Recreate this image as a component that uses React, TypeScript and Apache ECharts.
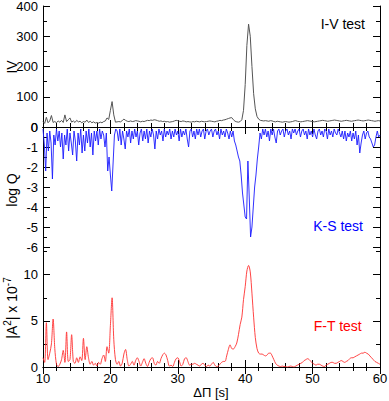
import React, { useEffect, useRef } from "react";
import * as echarts from "echarts";

// sampling grid start (ΔΠ in s) and steps of each series
const X_START = 10;
const IV_STEP = 0.25;
const KS_STEP = 0.2;
const FT_STEP = 0.25;

// I-V test (IV), ΔΠ = 10 .. 60 every 0.25 s
const ivValues: number[] = [
  18, 12, 32, 14, /* 10 */ 20, 38, 15, 18, /* 11 */ 14, 20, 16, 22, /* 12 */
  15, 40, 18, 24, /* 13 */ 30, 16, 20, 15, /* 14 */ 22, 17, 19, 14, /* 15 */
  18, 16, 23, 15, /* 16 */ 19, 14, 17, 13, /* 17 */ 15, 13, 16, 14, /* 18 */
  18, 20, 30, 25, /* 19 */ 55, 84, 40, 16, /* 20 */ 17, 18, 17, 21, /* 21 */
  26, 22, 19, 18, /* 22 */ 20, 18, 19, 21, /* 23 */ 20, 19, 17, 19, /* 24 */
  18, 20, 22, 21, /* 25 */ 23, 22, 24, 23, /* 26 */ 21, 19, 20, 18, /* 27 */
  19, 17, 18, 16, /* 28 */ 17, 18, 20, 22, /* 29 */ 21, 19, 18, 20, /* 30 */
  19, 17, 18, 17, /* 31 */ 16, 18, 17, 19, /* 32 */ 18, 17, 19, 18, /* 33 */
  17, 18, 19, 20, /* 34 */ 19, 18, 17, 19, /* 35 */ 20, 22, 21, 23, /* 36 */
  24, 26, 28, 30, /* 37 */ 31, 24, 19, 17, /* 38 */ 16, 18, 24, 55, /* 39 */
  140, 270, 340, 300, /* 40 */ 200, 110, 60, 35, /* 41 */ 26, 22, 21, 20, /* 42 */
  21, 20, 19, 21, /* 43 */ 20, 18, 17, 19, /* 44 */ 18, 17, 16, 17, /* 45 */
  18, 17, 16, 17, /* 46 */ 18, 20, 21, 19, /* 47 */ 18, 17, 18, 19, /* 48 */
  20, 21, 20, 19, /* 49 */ 18, 17, 18, 19, /* 50 */ 20, 21, 22, 21, /* 51 */
  20, 19, 20, 21, /* 52 */ 22, 23, 22, 21, /* 53 */ 20, 19, 20, 21, /* 54 */
  22, 21, 20, 19, /* 55 */ 20, 21, 22, 23, /* 56 */ 22, 21, 20, 21, /* 57 */
  22, 23, 22, 21, /* 58 */ 20, 19, 20, 21, /* 59 */ 20 /* 60 */,
];

// K-S test (log Q), ΔΠ = 10 .. 60 every 0.2 s
const ksValues: number[] = [
  -0.1, -0.9, -2.2, -0.3, -1.2, /* 10 */ -0.2, -0.8, -2.6, -0.4, -0.9, /* 11 */
  -0.1, -0.7, -0.2, -1.0, -0.3, /* 12 */ -1.6, -0.4, -0.9, -0.1, -1.2, /* 13 */
  -0.3, -0.8, -1.4, -0.2, -0.7, /* 14 */ -1.7, -0.3, -0.9, -0.1, -1.3, /* 15 */
  -0.4, -1.2, -0.2, -0.8, -0.1, /* 16 */ -1.0, -0.3, -1.4, -0.2, -0.7, /* 17 */
  -0.2, -0.9, -0.1, -0.6, -0.2, /* 18 */ -0.4, -1.0, -0.3, -2.2, -1.5, /* 19 */
  -2.4, -3.2, -1.8, -0.4, -0.1, /* 20 */ -0.2, -0.7, -0.1, -0.9, -0.2, /* 21 */
  -0.6, -1.1, -0.2, -0.5, -0.1, /* 22 */ -0.8, -0.2, -0.6, -0.1, -0.5, /* 23 */
  -0.2, -0.9, -0.3, -0.1, -0.7, /* 24 */ -0.2, -0.6, -0.1, -0.8, -0.2, /* 25 */
  -0.5, -0.1, -0.4, -1.1, -0.2, /* 26 */ -0.6, -0.1, -0.4, -0.2, -0.7, /* 27 */
  -0.1, -0.5, -0.2, -0.4, -0.1, /* 28 */ -0.6, -0.2, -0.5, -0.1, -0.4, /* 29 */
  -0.2, -0.7, -0.1, -0.5, -0.2, /* 30 */ -0.4, -0.1, -0.6, -1.0, -0.2, /* 31 */
  -0.1, -0.5, -0.2, -0.6, -0.1, /* 32 */ -0.4, -0.1, -0.5, -0.2, -0.1, /* 33 */
  -0.6, -0.2, -0.1, -0.4, -0.2, /* 34 */ -0.1, -0.5, -0.2, -0.1, -0.4, /* 35 */
  -0.2, -0.6, -0.1, -0.4, -0.2, /* 36 */ -0.5, -0.1, -0.3, -0.6, -0.2, /* 37 */
  -0.5, -0.2, -0.7, -0.9, -1.2, /* 38 */ -1.5, -1.7, -2.4, -3.3, -3.9, /* 39 */
  -4.5, -4.6, -1.7, -3.5, -5.5, /* 40 */ -5.0, -4.0, -3.0, -2.4, -1.6, /* 41 */
  -1.0, -0.3, -0.6, -0.1, -0.4, /* 42 */ -0.1, -0.5, -0.2, -0.7, -0.1, /* 43 */
  -0.4, -0.1, -0.5, -0.8, -0.2, /* 44 */ -0.1, -0.4, -0.2, -0.1, -0.5, /* 45 */
  -0.2, -0.1, -0.4, -0.2, -0.6, /* 46 */ -0.1, -0.3, -0.1, -0.4, -0.2, /* 47 */
  -0.1, -0.5, -0.2, -0.1, -0.4, /* 48 */ -0.2, -0.6, -0.1, -0.4, -0.2, /* 49 */
  -0.5, -0.1, -0.4, -0.6, -0.2, /* 50 */ -0.1, -0.4, -0.2, -0.5, -0.1, /* 51 */
  -0.2, -0.6, -0.1, -0.4, -0.2, /* 52 */ -0.5, -0.1, -0.3, -0.4, -0.1, /* 53 */
  -0.3, -0.5, -0.2, -0.6, -0.2, /* 54 */ -0.7, -0.3, -0.5, -0.2, -0.7, /* 55 */
  -0.3, -0.6, -0.2, -0.9, -0.4, /* 56 */ -1.3, -0.8, -0.4, -0.2, -0.6, /* 57 */
  -0.3, -0.2, -0.5, -0.6, -0.8, /* 58 */ -1.0, -0.9, -0.5, -0.2, -0.5, /* 59 */
  -0.4 /* 60 */,
];

// F-T test (|A²| x 10^-7), ΔΠ = 10 .. 60 every 0.25 s
const ftValues: number[] = [
  1.0, 0.5, 4.8, 0.8, /* 10 */ 1.5, 2.5, 5.2, 2.0, /* 11 */ 0.3, 0.05, 0.3, 0.8, /* 12 */
  1.8, 0.5, 3.8, 0.6, /* 13 */ 0.8, 3.5, 0.6, 0.4, /* 14 */ 1.0, 0.5, 1.1, 0.7, /* 15 */
  3.1, 0.8, 2.2, 1.0, /* 16 */ 0.3, 0.6, 0.2, 0.4, /* 17 */ 0.1, 0.5, 0.3, 0.9, /* 18 */
  1.3, 0.6, 2.2, 1.5, /* 19 */ 4.5, 7.5, 3.0, 0.8, /* 20 */ 0.3, 0.6, 0.1, 0.4, /* 21 */
  1.4, 1.9, 0.8, 0.1, /* 22 */ 0.3, 0.6, 0.2, 0.7, /* 23 */ 1.0, 0.6, 0.1, 0.5, /* 24 */
  0.9, 0.4, 0.05, 0.5, /* 25 */ 0.9, 1.0, 0.4, 0.2, /* 26 */ 0.6, 0.4, 0.9, 1.3, /* 27 */
  1.5, 1.3, 0.7, 0.1, /* 28 */ 0.2, 0.05, 0.5, 0.9, /* 29 */ 1.0, 0.6, 0.1, 0.3, /* 30 */
  0.9, 1.0, 0.6, 0.2, /* 31 */ 0.3, 0.3, 0.4, 0.3, /* 32 */ 0.2, 0.1, 0.3, 0.4, /* 33 */
  0.2, 0.05, 0.2, 0.1, /* 34 */ 0.3, 0.5, 0.2, 0.05, /* 35 */ 0.1, 0.3, 0.5, 0.6, /* 36 */
  0.6, 1.2, 1.9, 2.4, /* 37 */ 2.0, 1.95, 2.2, 2.6, /* 38 */ 3.5, 4.6, 5.4, 7.3, /* 39 */
  8.7, 10.4, 11.0, 10.3, /* 40 */ 8.0, 5.4, 3.2, 2.0, /* 41 */ 1.5, 1.4, 1.4, 1.3, /* 42 */
  1.2, 1.3, 1.5, 1.5, /* 43 */ 1.2, 0.8, 0.4, 0.2, /* 44 */ 0.1, 0.05, 0.1, 0.05, /* 45 */
  0.05, 0.0, 0.05, 0.1, /* 46 */ 0.05, 0.0, 0.1, 0.2, /* 47 */ 0.3, 0.4, 0.5, 0.7, /* 48 */
  0.8, 0.9, 0.8, 0.6, /* 49 */ 0.4, 0.3, 0.2, 0.3, /* 50 */ 0.3, 0.2, 0.1, 0.05, /* 51 */
  0.2, 0.3, 0.4, 0.5, /* 52 */ 0.5, 0.4, 0.4, 0.5, /* 53 */ 0.6, 0.7, 0.6, 0.5, /* 54 */
  0.6, 0.7, 0.9, 1.0, /* 55 */ 1.0, 1.1, 1.2, 1.3, /* 56 */ 1.4, 1.5, 1.5, 1.6, /* 57 */
  1.5, 1.4, 1.2, 1.0, /* 58 */ 0.8, 0.6, 0.5, 0.4, /* 59 */ 0.3 /* 60 */,
];

const xTickLabels = ["10", "20", "30", "40", "50", "60"];
const ivRange = [0, 400];
const ksRange = [-6, 0];
const ftRange = [0, 13];

const FONT = "'Liberation Sans', Arial, Helvetica, sans-serif";

function toPairs(values: number[], step: number): number[][] {
  return values.map((v, i) => [X_START + i * step, v]);
}

export default function App() {
  const ref = useRef<HTMLDivElement>(null);

  useEffect(() => {
    if (!ref.current) return;
    const chart = echarts.init(ref.current, null, { renderer: "svg" });

    const axisLine = { show: true, lineStyle: { color: "#000", width: 1 } };
    const tickMajor = { show: true, inside: true, length: 7, lineStyle: { color: "#000" } };
    const tickMinor = (n: number) => ({ show: true, splitNumber: n, length: 4, lineStyle: { color: "#000" } });

    const gridCommon = { left: 43, right: 9, containLabel: false, outerBoundsMode: "none" };
    const grids = [
      { ...gridCommon, top: 6, height: 121 },
      { ...gridCommon, top: 127, height: 120 },
      { ...gridCommon, top: 247, height: 120 },
    ];

    const xBase = (gridIndex: number, position: "top" | "bottom", labels: boolean) => ({
      type: "value",
      gridIndex,
      position,
      min: 10,
      max: 60,
      interval: 10,
      axisLine,
      axisTick: tickMajor,
      minorTick: tickMinor(5),
      splitLine: { show: false },
      axisLabel: labels
        ? {
            show: true,
            margin: 5,
            fontSize: 13,
            color: "#000",
            fontFamily: FONT,
            formatter: (v: number) => (xTickLabels.includes(String(v)) ? String(v) : ""),
          }
        : { show: false },
    });

    const yBase = (
      gridIndex: number,
      position: "left" | "right",
      range: number[],
      interval: number,
      minorSplit: number,
      labels: boolean
    ) => ({
      type: "value",
      gridIndex,
      position,
      min: range[0],
      max: range[1],
      interval,
      axisLine,
      axisTick: tickMajor,
      minorTick: minorSplit > 0 ? tickMinor(minorSplit) : { show: false },
      splitLine: { show: false },
      axisLabel: labels
        ? {
            show: true,
            margin: 5,
            fontSize: 13,
            color: "#000",
            fontFamily: FONT,
            showMaxLabel: range[1] % interval === 0,
          }
        : { show: false },
    });

    const minorOnly = (position: "left" | "right") => ({
      ...yBase(2, position, ftRange, 2.5, 0, false),
      axisTick: { show: true, inside: true, length: 4, lineStyle: { color: "#000" } },
    });

    const yName = (text: string, y: number, rich?: any) => ({
      type: "text",
      x: 12,
      y,
      rotation: Math.PI / 2,
      style: {
        text,
        fill: "#000",
        font: `14px ${FONT}`,
        align: "center",
        verticalAlign: "middle",
        ...(rich ? { rich } : {}),
      },
    });

    const supRich = {
      sup: { fontSize: 10, fill: "#000", fontFamily: FONT, padding: [0, 0, 9, 0] },
    };

    const option = {
      animation: false,
      backgroundColor: "#fff",
      grid: grids,
      xAxis: [
        xBase(0, "bottom", false),
        xBase(0, "top", false),
        xBase(1, "bottom", false),
        xBase(1, "top", false),
        xBase(2, "bottom", true),
        xBase(2, "top", false),
      ],
      yAxis: [
        yBase(0, "left", ivRange, 100, 2, true),
        yBase(0, "right", ivRange, 100, 2, false),
        yBase(1, "left", ksRange, 1, 2, true),
        yBase(1, "right", ksRange, 1, 2, false),
        yBase(2, "left", ftRange, 5, 0, true),
        yBase(2, "right", ftRange, 5, 0, false),
        minorOnly("left"),
        minorOnly("right"),
      ],
      graphic: [
        yName("IV", 67),
        yName("log Q", 190),
        yName("|A{sup|2}| x 10{sup|-7}", 308, supRich),
        {
          type: "text",
          x: 211,
          y: 392,
          style: {
            text: "ΔΠ [s]",
            fill: "#000",
            font: `13px ${FONT}`,
            align: "center",
            verticalAlign: "middle",
          },
        },
        {
          type: "text",
          right: 24,
          top: 17,
          style: { text: "I-V test", fill: "#000", font: `14px ${FONT}` },
        },
        {
          type: "text",
          right: 26,
          top: 219,
          style: { text: "K-S test", fill: "#0000ff", font: `14px ${FONT}` },
        },
        {
          type: "text",
          right: 27,
          top: 319,
          style: { text: "F-T test", fill: "#ff0000", font: `14px ${FONT}` },
        },
      ],
      series: [
        {
          type: "line",
          xAxisIndex: 0,
          yAxisIndex: 0,
          data: toPairs(ivValues, IV_STEP),
          showSymbol: false,
          lineStyle: { color: "#555", width: 1 },
        },
        {
          type: "line",
          xAxisIndex: 2,
          yAxisIndex: 2,
          data: toPairs(ksValues, KS_STEP),
          showSymbol: false,
          lineStyle: { color: "#1a1aff", width: 0.9 },
        },
        {
          type: "line",
          xAxisIndex: 4,
          yAxisIndex: 4,
          data: toPairs(ftValues, FT_STEP),
          showSymbol: false,
          smooth: 0.3,
          lineStyle: { color: "#ff3030", width: 0.9 },
        },
      ],
    };

    chart.setOption(option as any);
    return () => chart.dispose();
  }, []);

  return (
    <div
      ref={ref}
      style={{ position: "absolute", left: 0, top: 0, width: 389, height: 401, background: "#fff" }}
    />
  );
}
